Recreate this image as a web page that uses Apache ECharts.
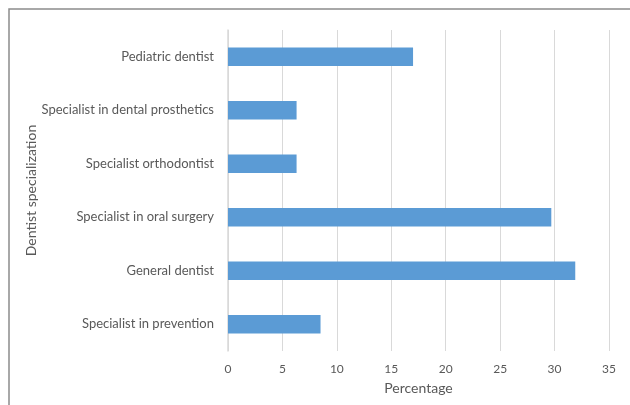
<!DOCTYPE html>
<html>
<head>
<meta charset="utf-8">
<script src="https://cdn.jsdelivr.net/npm/echarts@6/dist/echarts.min.js"></script>
<style>
html, body { margin: 0; padding: 0; background: #fff; }
#chart { width: 630px; height: 405px; }
</style>
</head>
<body>
<div id="chart"></div>
<script>
// top to bottom as in the picture
var specializations = [
    'Pediatric dentist',
    'Specialist in dental prosthetics',
    'Specialist orthodontist',
    'Specialist in oral surgery',
    'General dentist',
    'Specialist in prevention'
];
var percentages = [17.0, 6.3, 6.3, 29.7, 31.9, 8.5];
var xTicks = [0, 5, 10, 15, 20, 25, 30, 35];

var myChart = echarts.init(document.getElementById('chart'));
var font = 'Lato, "Open Sans", sans-serif';

option = {
    animation: false,
    textStyle: { fontFamily: font },
    graphic: [{
        type: 'rect',
        shape: { x: 9, y: 9, width: 700, height: 500 },
        style: { fill: 'none', stroke: '#8c8c8c', lineWidth: 1.5 },
        silent: true
    }],
    grid: { left: 228, right: 21, top: 30, bottom: 54 },
    xAxis: {
        type: 'value',
        min: xTicks[0],
        max: xTicks[xTicks.length - 1],
        interval: 5,
        name: 'Percentage',
        nameLocation: 'middle',
        nameGap: 30,
        nameTextStyle: { color: '#595959', fontSize: 14, fontFamily: font },
        axisLine: { show: false },
        axisTick: { show: false },
        axisLabel: { color: '#595959', fontSize: 12, margin: 12, fontFamily: font },
        splitLine: { show: true, lineStyle: { color: '#d9d9d9', width: 1 } }
    },
    yAxis: {
        type: 'category',
        inverse: true,
        data: specializations,
        name: 'Dentist specialization',
        nameLocation: 'middle',
        nameGap: 190,
        nameMoveOverlap: false,
        nameRotate: 90,
        nameTextStyle: { color: '#595959', fontSize: 14, fontFamily: font },
        axisLine: { show: true, lineStyle: { color: '#d9d9d9', width: 1.5 } },
        axisTick: { show: false },
        axisLabel: { color: '#595959', fontSize: 13, margin: 14, fontFamily: font }
    },
    series: [{
        type: 'bar',
        data: percentages,
        barWidth: '35%',
        itemStyle: { color: '#5b9bd5' }
    }]
};
myChart.setOption(option);
window.addEventListener('resize', function () {
    myChart.resize();
});
</script>
</body>
</html>
